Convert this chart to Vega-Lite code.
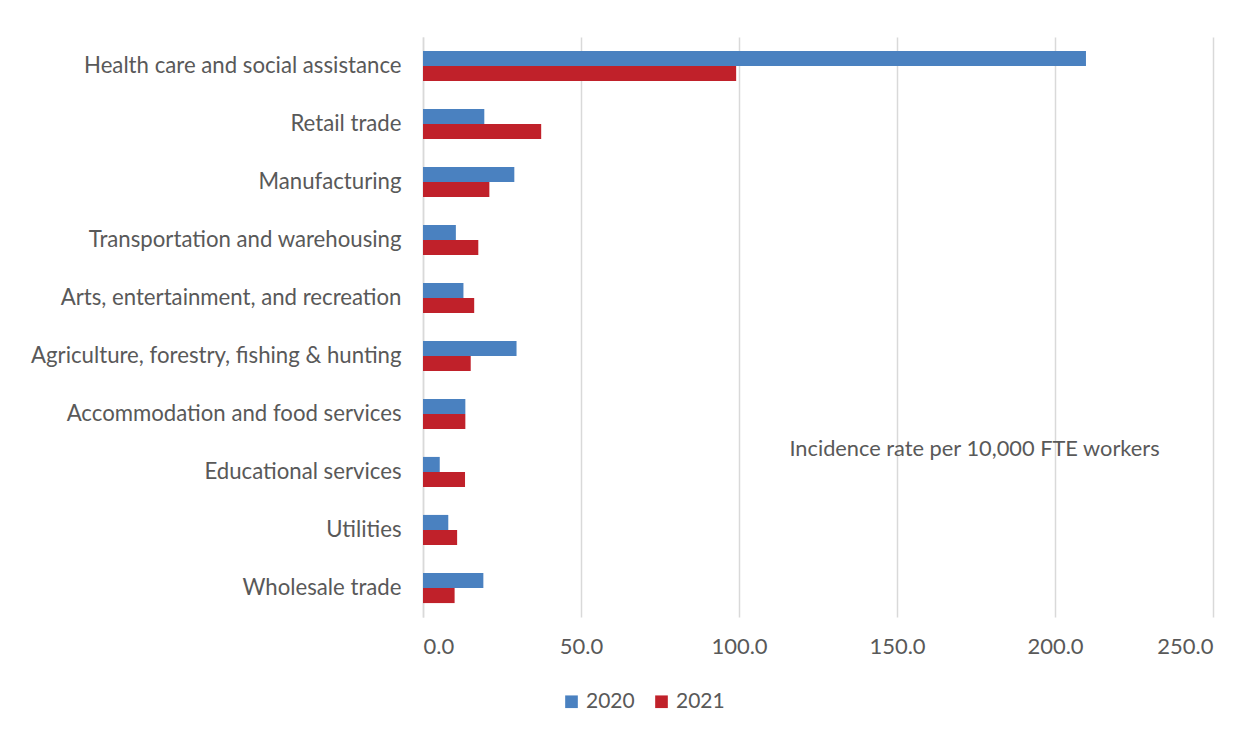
{
  "$schema": "https://vega.github.io/schema/vega-lite/v6.json",
  "width": 790,
  "height": 580,
  "padding": {"left": 30, "top": 37, "right": 34, "bottom": 10},
  "background": "white",
  "config": {
    "view": {"stroke": null},
    "font": "Lato",
    "axis": {"labelFont": "Lato", "titleFont": "Lato"},
    "legend": {"labelFont": "Lato"}
  },
  "data": {
    "values": [
      {"industry": "Health care and social assistance", "year": "2020", "rate": 209.8},
      {"industry": "Health care and social assistance", "year": "2021", "rate": 99.1},
      {"industry": "Retail trade", "year": "2020", "rate": 19.4},
      {"industry": "Retail trade", "year": "2021", "rate": 37.4},
      {"industry": "Manufacturing", "year": "2020", "rate": 28.9},
      {"industry": "Manufacturing", "year": "2021", "rate": 21.0},
      {"industry": "Transportation and warehousing", "year": "2020", "rate": 10.4},
      {"industry": "Transportation and warehousing", "year": "2021", "rate": 17.5},
      {"industry": "Arts, entertainment, and recreation", "year": "2020", "rate": 12.8},
      {"industry": "Arts, entertainment, and recreation", "year": "2021", "rate": 16.2},
      {"industry": "Agriculture, forestry, fishing & hunting", "year": "2020", "rate": 29.6},
      {"industry": "Agriculture, forestry, fishing & hunting", "year": "2021", "rate": 15.1},
      {"industry": "Accommodation and food services", "year": "2020", "rate": 13.4},
      {"industry": "Accommodation and food services", "year": "2021", "rate": 13.4},
      {"industry": "Educational services", "year": "2020", "rate": 5.3},
      {"industry": "Educational services", "year": "2021", "rate": 13.3},
      {"industry": "Utilities", "year": "2020", "rate": 8.0},
      {"industry": "Utilities", "year": "2021", "rate": 10.8},
      {"industry": "Wholesale trade", "year": "2020", "rate": 19.1},
      {"industry": "Wholesale trade", "year": "2021", "rate": 10.0}
    ]
  },
  "mark": {"type": "bar"},
  "encoding": {
    "y": {
      "field": "industry",
      "type": "nominal",
      "sort": null,
      "scale": {"paddingInner": 0.48, "paddingOuter": 0.24},
      "axis": {
        "title": null,
        "ticks": false,
        "domainColor": "#d9d9d9",
        "domainWidth": 1.5,
        "labelFontSize": 22.2,
        "labelColor": "#595959",
        "labelPadding": 22,
        "labelLimit": 500
      }
    },
    "yOffset": {"field": "year", "type": "nominal", "scale": {"paddingInner": 0, "paddingOuter": 0}},
    "x": {
      "field": "rate",
      "type": "quantitative",
      "scale": {"domain": [0, 250], "nice": false},
      "axis": {
        "values": [0, 50, 100, 150, 200, 250],
        "format": ".1f",
        "domain": false,
        "ticks": false,
        "gridColor": "#d9d9d9",
        "gridWidth": 1.5,
        "labelFontSize": 22,
        "labelColor": "#595959",
        "labelPadding": 19,
        "title": "Incidence rate per 10,000 FTE workers",
        "titleFontSize": 21.8,
        "titleFontWeight": "normal",
        "titleColor": "#595959",
        "titleAnchor": "middle",
        "titleAlign": "center",
        "titleX": 551,
        "titleY": -169,
        "titleBaseline": "middle"
      }
    },
    "color": {
      "field": "year",
      "type": "nominal",
      "scale": {"domain": ["2020", "2021"], "range": ["#4A81C0", "#C0212A"]},
      "legend": {
        "title": null,
        "orient": "none",
        "direction": "horizontal",
        "legendX": 138,
        "legendY": 654,
        "symbolType": "square",
        "symbolSize": 160,
        "labelFontSize": 21,
        "labelColor": "#595959",
        "columnPadding": 16,
        "labelOffset": 4
      }
    }
  }
}
